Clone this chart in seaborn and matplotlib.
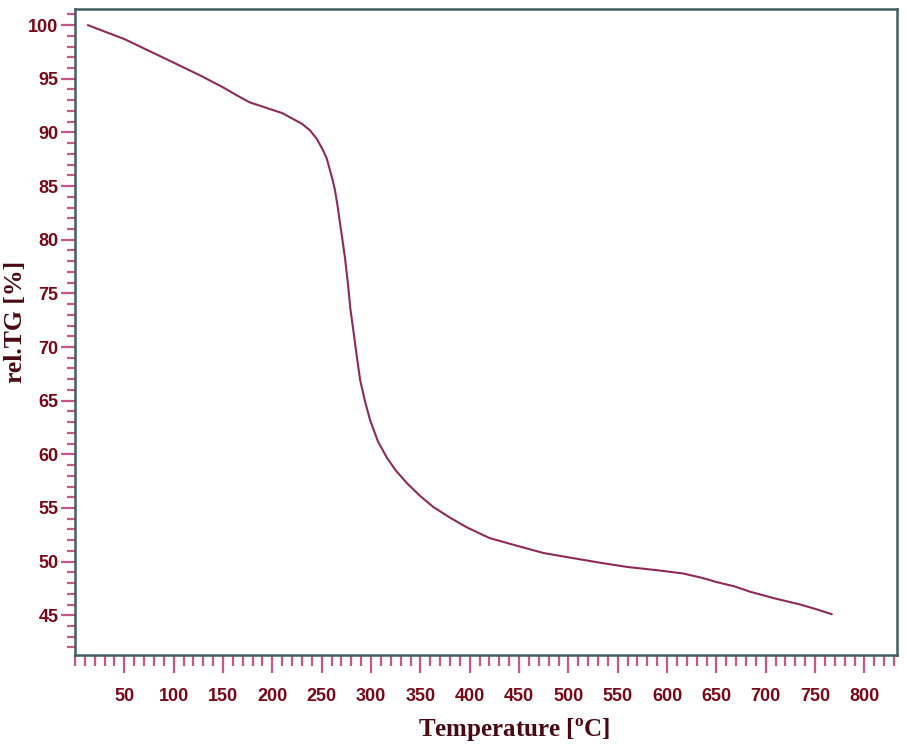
import matplotlib
matplotlib.use('Agg')
import matplotlib.pyplot as plt
import seaborn as sns
import numpy as np
import pandas as pd
from matplotlib.ticker import MultipleLocator

# TG curve (temperature in degC, relative mass in %)
temperature = [13, 30, 50, 75, 100, 127, 150, 165, 177, 187, 200, 210, 218,
               230, 238, 245, 251, 255, 258, 261, 263.5, 266, 268.6, 271,
               273.6, 276.7, 279, 282, 285, 289, 294, 299, 307, 316, 325,
               336.5, 350, 363, 380, 397, 420, 451, 475, 500, 532, 560, 590,
               616, 635, 650, 668, 684, 708, 735, 750, 767]
rel_tg = [100.0, 99.4, 98.7, 97.6, 96.5, 95.3, 94.2, 93.4, 92.8, 92.5, 92.1,
          91.8, 91.4, 90.8, 90.2, 89.4, 88.4, 87.6, 86.6, 85.6, 84.6, 83.2,
          81.5, 80.0, 78.3, 75.8, 73.6, 71.6, 69.5, 66.9, 64.9, 63.2, 61.2,
          59.7, 58.5, 57.3, 56.1, 55.1, 54.1, 53.2, 52.2, 51.4, 50.8, 50.4,
          49.9, 49.5, 49.2, 48.9, 48.5, 48.1, 47.7, 47.2, 46.6, 46.0, 45.6,
          45.1]

x_ticks = list(range(50, 801, 50))
y_ticks = list(range(45, 101, 5))

df = pd.DataFrame({'T': temperature, 'TG': rel_tg})

sns.set_style('white')
plt.rcParams['font.family'] = ['Liberation Sans', 'DejaVu Sans']

spine_col = '#3f5f60'
tick_col = '#c4588a'
label_col = '#7a0718'
title_col = '#4a0812'

fig = plt.figure(figsize=(9.07, 7.46), dpi=100)
ax = fig.add_axes([75 / 907, 1 - 655 / 746, 822 / 907, 646 / 746])

sns.lineplot(data=df, x='T', y='TG', ax=ax, color='#8e2a5a', linewidth=1.5)

ax.set_xlim(0, 833)
ax.set_ylim(41.3, 101.5)
ax.set_xticks(x_ticks)
ax.set_yticks(y_ticks)
ax.xaxis.set_minor_locator(MultipleLocator(10))
ax.yaxis.set_minor_locator(MultipleLocator(1))

ax.tick_params(which='both', bottom=True, left=True, top=False, right=False)
ax.tick_params(axis='x', which='major', length=13, width=1.6, color=tick_col,
               pad=11, labelsize=13, labelcolor=label_col, direction='out')
ax.tick_params(axis='x', which='minor', length=8, width=1.6, color=tick_col,
               direction='out')
ax.tick_params(axis='y', which='major', length=10, width=1.6, color=tick_col,
               pad=2, labelsize=13, labelcolor=label_col, direction='out')
ax.tick_params(axis='y', which='minor', length=6, width=1.6, color=tick_col,
               direction='out')

for lbl in ax.get_xticklabels() + ax.get_yticklabels():
    lbl.set_fontweight('bold')

for sp in ax.spines.values():
    sp.set_color(spine_col)
    sp.set_linewidth(1.8)

ax.set_xlabel(r'Temperature [$^{\mathregular{o}}$C]', fontsize=18,
              fontweight='bold', family='Liberation Serif', color=title_col)
ax.set_ylabel('rel.TG [%]', fontsize=18.5, fontweight='bold',
              family='Liberation Serif', color=title_col)
ax.xaxis.set_label_coords(0.534, -0.095)
ax.yaxis.set_label_coords(-0.059, 0.515)

fig.savefig('out.png', dpi=100)
